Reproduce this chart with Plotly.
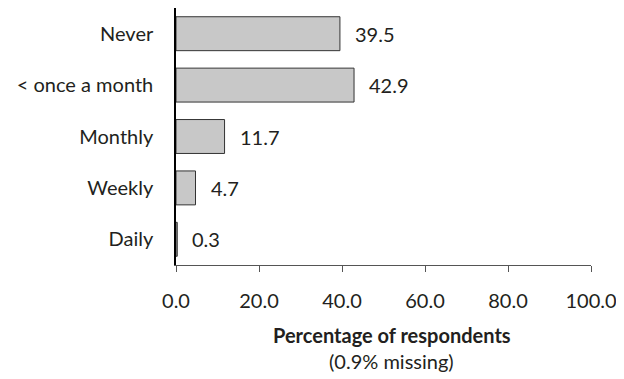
import plotly.graph_objects as go

categories = ["Never", "< once a month", "Monthly", "Weekly", "Daily"]
values = [39.5, 42.9, 11.7, 4.7, 0.3]
x_ticks = [0, 20, 40, 60, 80, 100]
x_tick_labels = ["0.0", "20.0", "40.0", "60.0", "80.0", "100.0"]
axis_title = "Percentage of respondents"
axis_subtitle = "(0.9% missing)"

FONT = "Lato, 'Open Sans', sans-serif"
TXT = "#231f20"
FS = 20

fig = go.Figure()
fig.add_trace(go.Bar(
    y=categories, x=values, orientation="h",
    marker=dict(color="#c8c8c8", line=dict(color="#333333", width=1)),
    width=0.66, showlegend=False, hoverinfo="skip",
))

for c, v in zip(categories, values):
    fig.add_annotation(x=v, y=c, text=f"{v:.1f}", showarrow=False,
                       xanchor="left", xshift=13, font=dict(size=FS, color=TXT, family=FONT))

fig.add_annotation(x=0.52, y=-0.274, xref="paper", yref="paper", text=f"<b>{axis_title}</b>",
                   showarrow=False, xanchor="center", yanchor="middle",
                   font=dict(size=FS, color=TXT, family=FONT))
fig.add_annotation(x=0.52, y=-0.372, xref="paper", yref="paper", text=axis_subtitle,
                   showarrow=False, xanchor="center", yanchor="middle",
                   font=dict(size=FS, color=TXT, family=FONT))

fig.update_layout(
    width=616, height=371,
    margin=dict(l=168, r=33, t=0, b=114),
    plot_bgcolor="white", paper_bgcolor="white",
    font=dict(family=FONT, size=FS, color=TXT),
    bargap=0.34,
)
fig.update_xaxes(
    range=[0, 100], tickvals=x_ticks, ticktext=x_tick_labels,
    showgrid=False, zeroline=False, showline=True, linecolor="#555555", linewidth=1,
    ticks="outside", ticklen=6, tickcolor="#555555", ticklabelstandoff=12,
)
fig.update_yaxes(
    categoryorder="array", categoryarray=categories[::-1],
    showgrid=False, zeroline=False, showline=True, linecolor="#000000", linewidth=1.5,
    ticks="", ticklabelstandoff=17,
)

fig.write_html("out.html")
